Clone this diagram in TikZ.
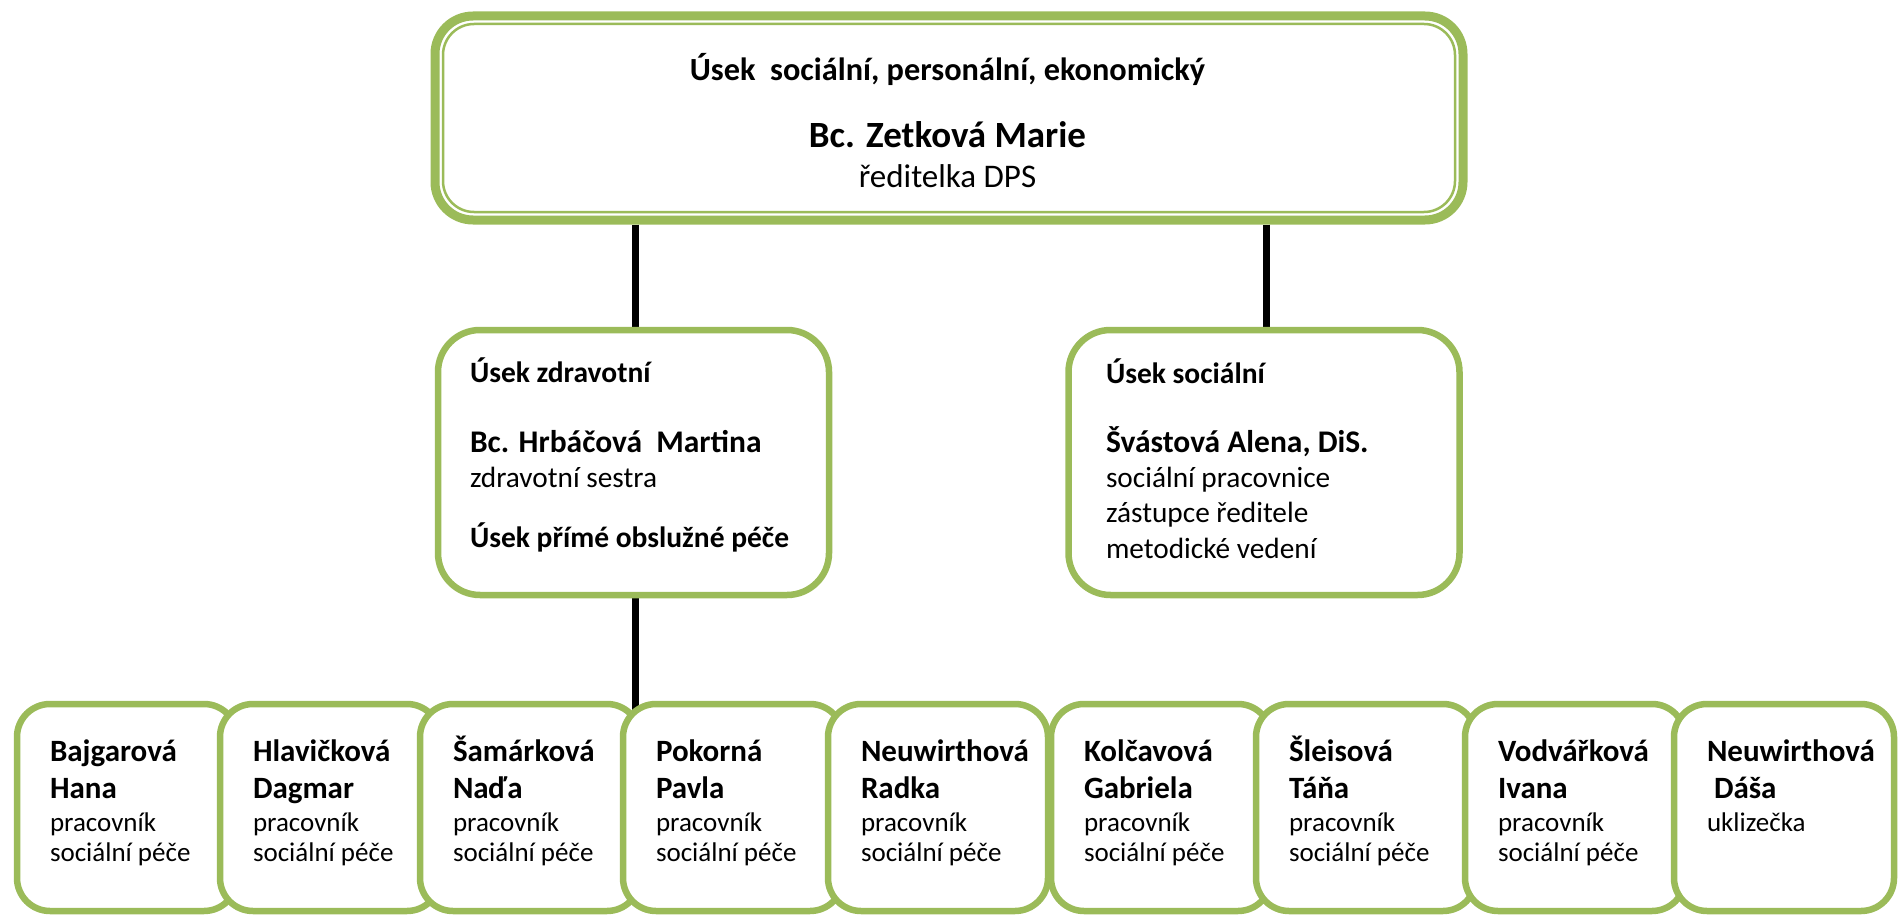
\documentclass[tikz,border=0pt]{standalone}
\usepackage{fontspec}
\setmainfont{Carlito}
\definecolor{boxgreen}{HTML}{9BBB59}
\tikzset{
  grnbox/.style={draw=boxgreen, fill=white, line width=6.5pt, inner sep=0pt},
  topouter/.style={draw=boxgreen, fill=white, line width=9pt, rounded corners=38pt, minimum width=1028pt, minimum height=204pt, inner sep=0pt},
  topinner/.style={draw=boxgreen, line width=2.5pt, rounded corners=31pt, minimum width=1012pt, minimum height=188pt, inner sep=0pt},
  midbox/.style={grnbox, rounded corners=42pt, minimum width=391pt, minimum height=265pt},
  botbox/.style={grnbox, rounded corners=33pt, minimum width=220pt, minimum height=207pt},
  conn/.style={line width=7pt, draw=black},
  lbl/.style={inner sep=0pt, outer sep=0pt, anchor=base west},
  ctr/.style={inner sep=0pt, outer sep=0pt, anchor=base},
  topsec/.style={font=\fontsize{32.3pt}{38pt}\selectfont\bfseries},
  topname/.style={font=\fontsize{37pt}{44pt}\selectfont\bfseries},
  toprole/.style={font=\fontsize{33pt}{40pt}\selectfont},
  midsec/.style={font=\fontsize{29.5pt}{35pt}\selectfont\bfseries},
  midname/.style={font=\fontsize{31.5pt}{37pt}\selectfont\bfseries},
  midrole/.style={font=\fontsize{29.3pt}{35pt}\selectfont},
  botname/.style={font=\fontsize{31pt}{37pt}\selectfont\bfseries},
  botrole/.style={font=\fontsize{27pt}{32pt}\selectfont},
}
\begin{document}
\begin{tikzpicture}[x=1pt,y=-1pt]
\useasboundingbox (0,0) rectangle (1899,915);

% top box
\node[topouter] (top) at (949,118) {};
\node[topinner] (topin) at (949,118) {};
\node[ctr,topsec] (t1) at (947.5,81) {Úsek~ sociální, personální, ekonomický};
\node[ctr,topname] (t2) at (947.5,148) {Bc. Zetková Marie};
\node[ctr,toprole] (t3) at (947.5,187) {ředitelka DPS};

% connectors
\coordinate (mlc) at (635,462.5);
\coordinate (mrc) at (1266,462.5);
\draw[conn] (mlc |- top.south) -- (mlc |- 0,335);
\draw[conn] (mrc |- top.south) -- (mrc |- 0,335);
\draw[conn] (mlc |- 0,590) -- (mlc |- 0,712);

% middle boxes
\node[midbox] (ml) at (633.5,462.5) {};
\node[midbox] (mr) at (1264,462.5) {};

\node[lbl,midsec] (ml1) at (470,382) {Úsek zdravotní};
\node[lbl,midname] (ml2) at (470,452) {Bc. Hrbáčová~ Martina};
\node[lbl,midrole] (ml3) at (470,487) {zdravotní sestra};
\node[lbl,midsec] (ml4) at (470,547) {Úsek přímé obslužné péče};

\node[lbl,midsec] (mr1) at (1106,383) {Úsek sociální};
\node[lbl,midname] (mr2) at (1106,452) {Švástová Alena, DiS.};
\node[lbl,midrole] (mr3) at (1106,487) {sociální pracovnice};
\node[lbl,midrole] (mr4) at (1106,522) {zástupce ředitele};
\node[lbl,midrole] (mr5) at (1106,558) {metodické vedení};

% bottom boxes
\foreach \i/\cx/\nA/\nB/\rA/\rB in {
  1/127/Bajgarová/Hana/pracovník/sociální péče,
  2/330/Hlavičková/Dagmar/pracovník/sociální péče,
  3/530/Šamárková/Naďa/pracovník/sociální péče,
  4/733/Pokorná/Pavla/pracovník/sociální péče,
  5/938/Neuwirthová/Radka/pracovník/sociální péče,
  6/1161/Kolčavová/Gabriela/pracovník/sociální péče,
  7/1366/Šleisová/Táňa/pracovník/sociální péče,
  8/1575/Vodvářková/Ivana/pracovník/sociální péče,
  9/1784/Neuwirthová/\ Dáša/uklizečka/} {
  \node[botbox] (b\i) at (\cx,807.5) {};
  \node[lbl,botname] (b\i-a) at (\cx-77,761) {\nA};
  \node[lbl,botname] (b\i-b) at (\cx-77,798) {\nB};
  \node[lbl,botrole] (b\i-c) at (\cx-77,831) {\rA};
  \node[lbl,botrole] (b\i-d) at (\cx-77,861) {\rB};
}
\end{tikzpicture}
\end{document}
